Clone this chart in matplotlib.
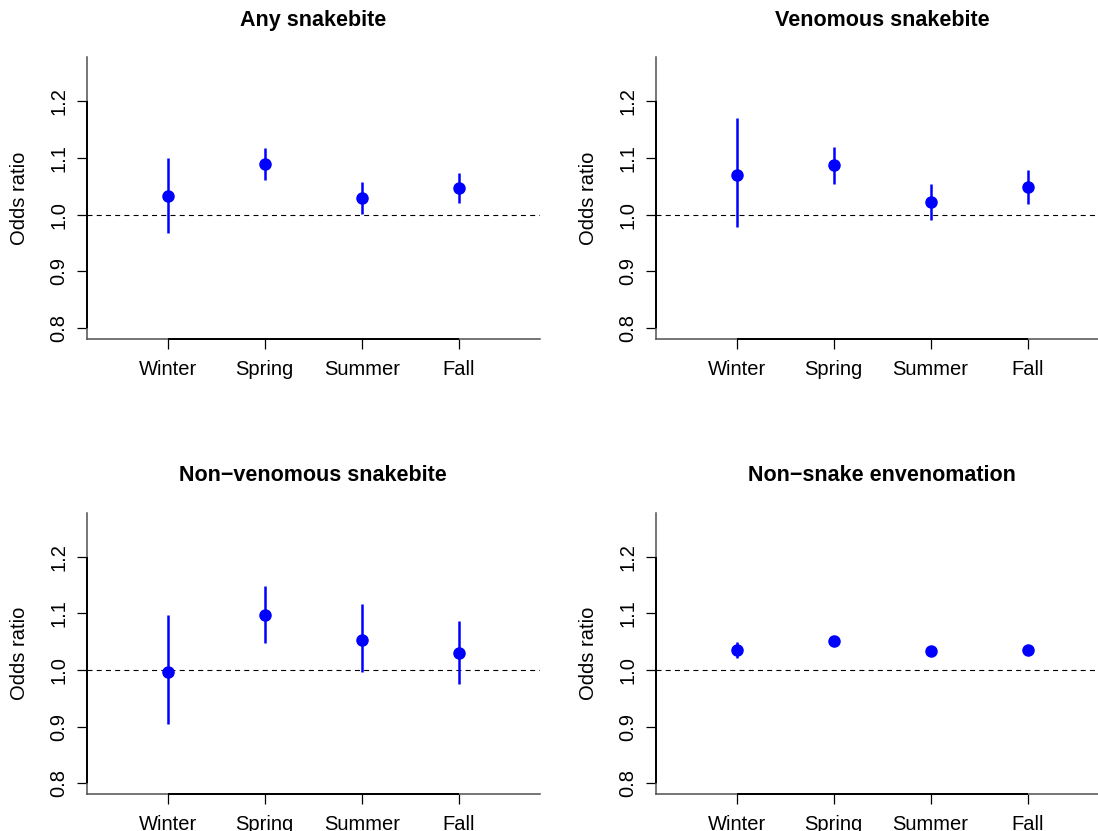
"""Seasonal odds ratios for snakebite / envenomation, 2x2 panel figure."""

import matplotlib
matplotlib.use("Agg")
import matplotlib.pyplot as plt

plt.rcParams['font.family'] = ['Liberation Sans', 'DejaVu Sans']

# seasons on the x axis
seasons = ["Winter", "Spring", "Summer", "Fall"]
season_pos = [1, 2, 3, 4]

titles = ["Any snakebite", "Venomous snakebite",
          "Non\u2212venomous snakebite", "Non\u2212snake envenomation"]

# odds ratios and 95% CI, one list per panel
or_any = [1.033, 1.090, 1.029, 1.047]
lo_any = [0.968, 1.062, 1.002, 1.020]
hi_any = [1.101, 1.117, 1.058, 1.073]

or_ven = [1.071, 1.087, 1.022, 1.049]
lo_ven = [0.979, 1.055, 0.991, 1.019]
hi_ven = [1.170, 1.119, 1.054, 1.079]

or_nonven = [0.997, 1.098, 1.054, 1.030]
lo_nonven = [0.905, 1.048, 0.996, 0.976]
hi_nonven = [1.097, 1.149, 1.116, 1.087]

or_nonsnake = [1.036, 1.051, 1.033, 1.035]
lo_nonsnake = [1.022, 1.047, 1.030, 1.032]
hi_nonsnake = [1.050, 1.055, 1.036, 1.038]

yticks = [0.8, 0.9, 1.0, 1.1, 1.2]
ytick_labels = ["0.8", "0.9", "1.0", "1.1", "1.2"]

panels = [
    (or_any, lo_any, hi_any),
    (or_ven, lo_ven, hi_ven),
    (or_nonven, lo_nonven, hi_nonven),
    (or_nonsnake, lo_nonsnake, hi_nonsnake),
]

W, H = 1098, 831
fig = plt.figure(figsize=(W / 100, H / 100), dpi=100)

# axes boxes in pixels (left edge, top edge), all same size
ax_w = 453
ax_h = 281.4
lefts = [86.7, 655.6]
tops = [57.3, 512.7]

xlim = (0.165, 4.835)
ylim = (0.781, 1.278)

blue = "#0000FF"
box_gray = "#505050"

for i, (vals, lo, hi) in enumerate(panels):
    row, col = divmod(i, 2)
    l = lefts[col]
    t = tops[row]
    ax = fig.add_axes([l / W, (H - t - ax_h) / H, ax_w / W, ax_h / H])
    ax.set_xlim(*xlim)
    ax.set_ylim(*ylim)

    # R style "l" box: grey frame, black axis line between end ticks
    for s in ["top", "right"]:
        ax.spines[s].set_visible(False)
    for s in ["left", "bottom"]:
        ax.spines[s].set_color(box_gray)
        ax.spines[s].set_linewidth(1.1)
    ax.hlines(ylim[0], season_pos[0], season_pos[-1], color="black",
              lw=1.4, clip_on=False, zorder=4)
    ax.vlines(xlim[0], yticks[0], yticks[-1], color="black",
              lw=1.4, clip_on=False, zorder=4)

    # reference line at OR = 1
    ax.axhline(1.0, color="black", lw=0.8, linestyle=(0, (4.5, 3.8)), zorder=1)

    # confidence intervals + point estimates
    ax.vlines(season_pos, lo, hi, color=blue, lw=1.8, zorder=2)
    ax.plot(season_pos, vals, "o", color=blue, markersize=8, zorder=3)

    ax.set_xticks(season_pos)
    ax.set_xticklabels(seasons)
    ax.set_yticks(yticks)
    ax.set_yticklabels(ytick_labels)
    ax.tick_params(axis="both", direction="out", length=7, width=0.9,
                   color="black", labelsize=14.5)
    ax.tick_params(axis="x", pad=8)
    ax.tick_params(axis="y", pad=6)
    plt.setp(ax.get_yticklabels(), rotation=90, va="center")

    ax.set_title(titles[i], fontsize=15.5, fontweight="bold", pad=22.5)
    ax.set_ylabel("Odds ratio", fontsize=14.5)
    ax.yaxis.label.set_verticalalignment("center")
    ax.yaxis.set_label_coords(-67.0 / ax_w, 0.5)

fig.savefig("out.png", dpi=100)
